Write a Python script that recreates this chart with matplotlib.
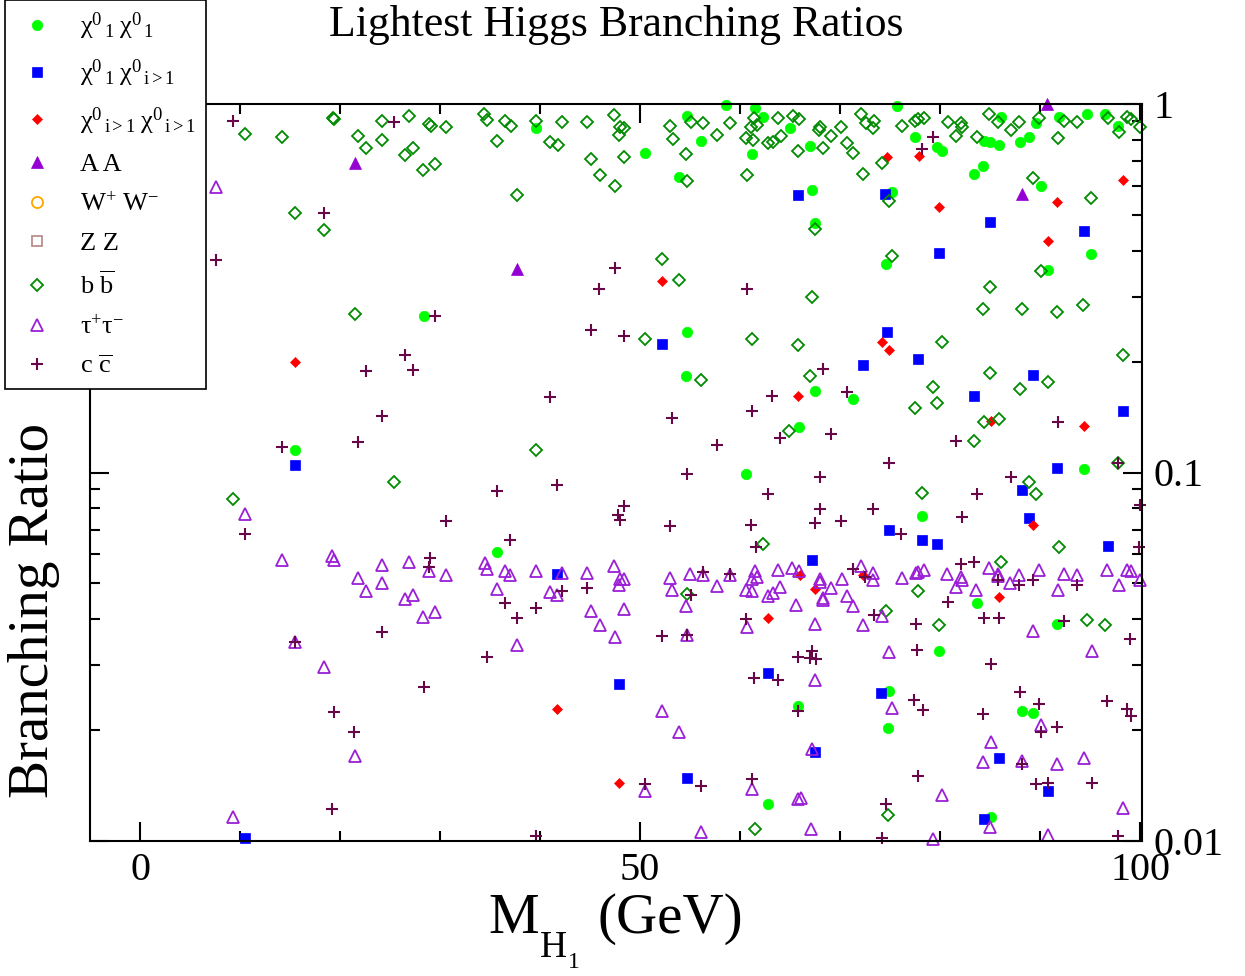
import matplotlib
matplotlib.use('Agg')
import matplotlib.pyplot as plt
from matplotlib.ticker import FixedLocator, FixedFormatter, LogLocator, MultipleLocator, NullFormatter

plt.rcParams['font.family'] = ['Liberation Serif', 'DejaVu Serif']
plt.rcParams['mathtext.fontset'] = 'custom'
plt.rcParams['mathtext.rm'] = 'Liberation Serif'
plt.rcParams['mathtext.it'] = 'Liberation Serif:italic'
plt.rcParams['mathtext.bf'] = 'Liberation Serif:bold'
plt.rcParams['mathtext.default'] = 'regular'

# ---------------- data (M_H1 in GeV, branching ratio) ----------------
chi11_x = [28.4, 39.6, 50.5, 54.7, 56.1, 58.6, 53.9, 61.5, 62.3, 61.2, 65.0, 54.7, 67.0, 75.7,
           77.5, 79.7, 80.2, 84.4, 85.0, 85.9, 86.1, 88.0, 88.9, 89.6, 91.9, 94.7, 96.5, 97.8,
           83.4, 84.3, 90.1, 67.2, 75.2, 67.5, 95.1, 74.6, 90.8, 15.5, 54.6, 65.9, 60.6, 35.7,
           65.8, 62.8, 67.5, 71.3, 94.4, 78.2, 83.7, 91.7, 79.9, 74.9, 88.2, 89.3, 74.8, 85.1]
chi11_y = [0.266, 0.861, 0.736, 0.93, 0.792, 0.994, 0.634, 0.973, 0.92, 0.733, 0.859, 0.241, 0.769, 0.99,
           0.812, 0.766, 0.747, 0.795, 0.79, 0.774, 0.924, 0.79, 0.815, 0.886, 0.92, 0.939, 0.939, 0.873,
           0.646, 0.679, 0.60, 0.583, 0.578, 0.476, 0.391, 0.367, 0.355, 0.115, 0.183, 0.133, 0.099, 0.0609,
           0.0232, 0.0126, 0.166, 0.158, 0.102, 0.0763, 0.0443, 0.0388, 0.0327, 0.0256, 0.0225, 0.0222, 0.0202, 0.0116]

chi1j_x = [52.2, 65.8, 74.5, 85.0, 94.4, 79.9, 74.7, 15.5, 72.3, 77.8, 89.3, 83.4, 98.3, 91.7,
           88.2, 88.9, 74.9, 78.2, 79.7, 96.8, 67.2, 41.7, 47.9, 62.8, 54.7, 74.1, 67.5, 85.9,
           90.8, 84.4, 10.5]
chi1j_y = [0.223, 0.566, 0.57, 0.477, 0.452, 0.393, 0.24, 0.105, 0.196, 0.203, 0.184, 0.161, 0.147, 0.103,
           0.0895, 0.0752, 0.0700, 0.0656, 0.064, 0.0632, 0.058, 0.0531, 0.0267, 0.0285, 0.0148, 0.0252, 0.0174, 0.0168,
           0.0137, 0.0115, 0.0102]

chijj_x = [52.2, 74.7, 77.9, 98.3, 91.7, 79.9, 90.8, 74.2, 74.9, 15.5, 65.8, 85.1, 94.4, 89.3,
           66.0, 72.3, 67.5, 85.9, 62.8, 41.7, 47.9]
chijj_y = [0.331, 0.72, 0.724, 0.622, 0.542, 0.525, 0.425, 0.226, 0.215, 0.199, 0.161, 0.138, 0.134, 0.072,
           0.0527, 0.0527, 0.0484, 0.0459, 0.0403, 0.0228, 0.0144]

aa_x = [21.5, 37.7, 90.7, 88.2]
aa_y = [0.693, 0.357, 1.0, 0.571]

ww_x = []
ww_y = []
zz_x = []
zz_y = []

bb_x = [10.5, 14.2, 19.3, 19.4, 21.8, 22.6, 24.2, 24.2, 26.9, 26.5, 27.3, 28.9, 29.1, 30.6,
        28.3, 29.5, 15.5, 18.4, 21.5, 34.4, 34.7, 36.5, 37.1, 39.6, 35.7, 41.0, 41.8, 42.2,
        44.7, 47.4, 48.0, 48.4, 47.9, 45.1, 48.4, 46.0, 47.5, 37.7, 53.0, 55.1, 56.3, 53.3,
        54.6, 57.7, 59.0, 54.7, 61.4, 61.1, 61.7, 60.6, 61.3, 63.8, 65.3, 64.1, 62.8, 63.3,
        65.8, 60.7, 52.2, 53.9, 50.5, 61.2, 65.8, 65.9, 68.0, 67.9, 68.3, 69.1, 70.1, 70.7,
        71.3, 72.1, 72.6, 73.4, 73.3, 72.3, 74.2, 76.2, 77.5, 77.8, 78.4, 80.8, 82.1, 82.2,
        81.6, 83.7, 84.9, 85.8, 87.1, 87.9, 89.9, 92.4, 93.7, 91.8, 96.8, 97.9, 98.7, 99.1,
        100.0, 89.3, 95.1, 74.9, 67.5, 75.2, 90.1, 85.0, 67.2, 84.3, 88.2, 91.7, 94.3, 80.2,
        25.4, 9.3, 56.1, 64.9, 39.6, 62.3, 67.0, 85.0, 79.3, 90.8, 88.0, 98.3, 77.5, 79.7,
        84.4, 85.9, 83.4, 97.8, 78.2, 88.9, 89.6, 91.9, 86.1, 77.8, 54.7, 74.6, 79.9, 94.7,
        96.5, 74.8, 61.5]
bb_y = [0.83, 0.815, 0.918, 0.91, 0.82, 0.758, 0.90, 0.80, 0.93, 0.727, 0.758, 0.88, 0.87, 0.866,
        0.661, 0.686, 0.506, 0.456, 0.269, 0.938, 0.903, 0.90, 0.873, 0.90, 0.795, 0.787, 0.776, 0.892,
        0.892, 0.934, 0.868, 0.859, 0.824, 0.709, 0.717, 0.642, 0.60, 0.565, 0.87, 0.892, 0.886, 0.805,
        0.73, 0.824, 0.888, 0.617, 0.915, 0.868, 0.877, 0.807, 0.798, 0.915, 0.93, 0.819, 0.782, 0.787,
        0.746, 0.642, 0.379, 0.333, 0.23, 0.231, 0.222, 0.909, 0.865, 0.85, 0.758, 0.817, 0.868, 0.782,
        0.736, 0.941, 0.888, 0.901, 0.859, 0.647, 0.69, 0.873, 0.90, 0.909, 0.918, 0.895, 0.886, 0.865,
        0.82, 0.812, 0.938, 0.892, 0.85, 0.892, 0.915, 0.90, 0.892, 0.81, 0.915, 0.838, 0.92, 0.91,
        0.865, 0.628, 0.555, 0.545, 0.458, 0.388, 0.352, 0.318, 0.30, 0.278, 0.278, 0.273, 0.285, 0.226,
        0.094, 0.085, 0.178, 0.13, 0.115, 0.064, 0.183, 0.186, 0.171, 0.176, 0.168, 0.209, 0.15, 0.154,
        0.137, 0.14, 0.122, 0.106, 0.088, 0.094, 0.0875, 0.0626, 0.057, 0.0477, 0.0468, 0.042, 0.0385, 0.0399,
        0.0385, 0.0118, 0.0108]

tau_x = [7.6, 10.5, 14.2, 19.2, 19.4, 24.2, 26.9, 28.9, 30.6, 21.8, 24.2, 22.6, 26.5, 27.3,
         28.3, 29.5, 15.5, 18.4, 21.5, 9.3, 34.5, 34.7, 36.5, 37.0, 39.6, 42.2, 44.7, 47.4,
         48.0, 48.4, 47.9, 35.7, 41.0, 41.7, 53.0, 55.0, 56.3, 59.0, 61.5, 61.2, 61.7, 63.8,
         65.2, 53.2, 57.7, 60.6, 61.2, 62.8, 63.3, 64.0, 45.1, 48.4, 46.0, 47.5, 37.7, 54.6,
         54.7, 60.7, 65.6, 52.2, 53.9, 50.5, 61.2, 65.8, 56.1, 65.9, 68.0, 68.0, 69.1, 70.2,
         72.1, 73.3, 73.3, 76.2, 77.6, 77.8, 78.4, 80.7, 82.1, 82.2, 81.6, 83.6, 84.9, 85.8,
         85.8, 87.0, 87.9, 89.9, 92.4, 93.7, 91.8, 96.7, 98.7, 99.1, 100.0, 97.9, 68.3, 70.7,
         68.3, 71.3, 74.2, 67.5, 72.3, 89.3, 74.9, 95.2, 67.5, 75.2, 90.1, 85.1, 67.2, 84.3,
         88.2, 91.7, 94.4, 66.1, 80.2, 98.3, 67.1, 85.0, 90.8, 79.3]
tau_y = [0.594, 0.0773, 0.058, 0.0592, 0.058, 0.0561, 0.0573, 0.054, 0.0527, 0.0518, 0.050, 0.0477, 0.0455, 0.0466,
         0.0405, 0.0418, 0.0346, 0.0297, 0.017, 0.0116, 0.0569, 0.0546, 0.054, 0.0527, 0.054, 0.0534, 0.0534, 0.0558,
         0.0515, 0.0515, 0.0494, 0.0484, 0.0473, 0.0465, 0.0518, 0.0531, 0.0526, 0.0527, 0.0542, 0.0515, 0.052, 0.0543,
         0.0549, 0.0481, 0.0492, 0.0481, 0.0477, 0.0463, 0.047, 0.049, 0.042, 0.0425, 0.0385, 0.0357, 0.0341, 0.0434,
         0.0363, 0.0382, 0.0437, 0.0226, 0.0197, 0.0137, 0.0138, 0.013, 0.0106, 0.054, 0.0513, 0.0505, 0.0487, 0.0513,
         0.0556, 0.0534, 0.051, 0.0516, 0.0534, 0.0538, 0.0544, 0.053, 0.052, 0.051, 0.049, 0.0481, 0.0552, 0.0531,
         0.0525, 0.050, 0.0527, 0.0543, 0.0531, 0.0527, 0.0481, 0.0543, 0.0543, 0.054, 0.0512, 0.0496, 0.0457, 0.0463,
         0.045, 0.0434, 0.0409, 0.0387, 0.0385, 0.0371, 0.0325, 0.0328, 0.0273, 0.0229, 0.0206, 0.0186, 0.0178, 0.0164,
         0.0165, 0.0162, 0.0168, 0.0131, 0.0133, 0.0123, 0.0108, 0.0109, 0.0104, 0.0101]

cc_x = [9.3, 25.4, 18.4, 7.6, 29.5, 47.5, 45.9, 60.7, 45.1, 48.4, 79.3, 78.2, 26.5, 22.6,
        27.3, 24.2, 21.8, 14.2, 10.5, 30.6, 29.0, 28.9, 24.2, 15.5, 28.4, 19.4, 21.4, 19.2,
        41.0, 63.2, 61.2, 53.2, 64.0, 57.7, 54.7, 62.8, 35.7, 41.7, 48.4, 47.8, 48.0, 53.0,
        61.1, 61.6, 37.0, 42.2, 44.7, 56.3, 59.0, 55.1, 36.5, 39.6, 37.7, 34.7, 52.2, 54.7,
        60.6, 65.8, 61.4, 63.8, 65.8, 50.5, 56.1, 61.2, 39.6, 68.3, 70.7, 69.1, 91.8, 81.6,
        74.9, 97.8, 68.0, 87.1, 83.7, 68.0, 73.3, 67.5, 70.1, 82.2, 76.1, 100.0, 99.9, 82.1,
        83.4, 71.3, 72.5, 85.8, 87.9, 89.3, 93.7, 80.8, 73.4, 77.6, 84.4, 85.9, 92.4, 99.0,
        67.2, 67.6, 67.0, 77.7, 85.1, 77.4, 78.3, 84.3, 88.0, 89.9, 90.1, 91.7, 96.7, 98.7,
        99.1, 88.2, 77.8, 89.6, 90.8, 95.2, 74.6, 74.2, 97.8]
cc_y = [0.90, 0.895, 0.507, 0.377, 0.266, 0.36, 0.315, 0.315, 0.243, 0.235, 0.814, 0.753, 0.209, 0.188,
        0.19, 0.142, 0.121, 0.117, 0.0681, 0.0737, 0.0585, 0.0553, 0.0369, 0.0346, 0.0261, 0.0224, 0.0198, 0.0122,
        0.16, 0.161, 0.147, 0.141, 0.124, 0.119, 0.099, 0.0873, 0.0893, 0.0924, 0.0812, 0.0769, 0.0741, 0.0716,
        0.0719, 0.0626, 0.0655, 0.0476, 0.0487, 0.0538, 0.053, 0.0466, 0.0443, 0.043, 0.0403, 0.0316, 0.036, 0.0363,
        0.0401, 0.0315, 0.0277, 0.0274, 0.0226, 0.0143, 0.0141, 0.0147, 0.0103, 0.191, 0.165, 0.127, 0.137, 0.122,
        0.106, 0.106, 0.0973, 0.0973, 0.0873, 0.0797, 0.0796, 0.0729, 0.0737, 0.0756, 0.0683, 0.0816, 0.0626, 0.0566,
        0.0573, 0.0548, 0.052, 0.051, 0.0494, 0.0512, 0.0496, 0.0446, 0.041, 0.0387, 0.0404, 0.0402, 0.0396, 0.0354,
        0.0327, 0.0311, 0.0314, 0.0329, 0.0302, 0.0242, 0.0227, 0.0221, 0.0253, 0.0235, 0.0197, 0.0204, 0.024, 0.0228,
        0.0218, 0.0162, 0.015, 0.0143, 0.0144, 0.0144, 0.0126, 0.0102, 0.0103]

labels = [r'$\mathrm{\chi}^{0}{}_{\,1}\;\mathrm{\chi}^{0}{}_{\,1}$',
          r'$\mathrm{\chi}^{0}{}_{\,1}\;\mathrm{\chi}^{0}{}_{\,i>1}$',
          r'$\mathrm{\chi}^{0}{}_{\,i>1}\;\mathrm{\chi}^{0}{}_{\,i>1}$',
          'A A',
          r'W$^{+}$ W$^{-}$',
          'Z Z',
          r'b $\overline{\mathrm{b}}$',
          r'$\mathrm{\tau}^{+}\mathrm{\tau}^{-}$',
          r'c $\overline{\mathrm{c}}$']

x_ticks = [0, 50, 100]
x_ticklabels = ['0', '50', '100']
y_ticks = [0.01, 0.1, 1]
y_ticklabels = ['0.01', '0.1', '1']

# ---------------- figure ----------------
W, H = 1245, 976
fig = plt.figure(figsize=(W / 100, H / 100), dpi=100)
ax = fig.add_axes([90 / W, 1 - 841 / H, 1052 / W, 737 / H])
ax.set_yscale('log')
ax.set_xlim(-5, 100.2)
ax.set_ylim(0.01, 1)

series = [
    (chi11_x, chi11_y, dict(marker='o', ms=7.5, mfc='#00ff00', mec='#00ff00', mew=0.5)),
    (chi1j_x, chi1j_y, dict(marker='s', ms=6.5, mfc='#0000ff', mec='#0000ff', mew=0.5)),
    (chijj_x, chijj_y, dict(marker='D', ms=5.3, mfc='#ff0000', mec='#ff0000', mew=0.5)),
    (aa_x, aa_y, dict(marker='^', ms=8.0, mfc='#9400d3', mec='#9400d3', mew=0.5)),
    (ww_x, ww_y, dict(marker='o', ms=8.0, mfc='none', mec='#ffa500', mew=1.3)),
    (zz_x, zz_y, dict(marker='s', ms=7.0, mfc='none', mec='#bc8f8f', mew=1.3)),
    (bb_x, bb_y, dict(marker='D', ms=6.5, mfc='none', mec='#008b00', mew=1.3)),
    (tau_x, tau_y, dict(marker='^', ms=8.5, mfc='none', mec='#9a1fd6', mew=1.3)),
    (cc_x, cc_y, dict(marker='+', ms=8.5, mfc='#670748', mec='#670748', mew=1.5)),
]

handles = []
for (xs, ys, st), lab in zip(series, labels):
    ln, = ax.plot(xs, ys, linestyle='none', clip_on=False, label=lab, **st)
    handles.append(ln)

# axes styling
for sp in ax.spines.values():
    sp.set_linewidth(1.5)
ax.xaxis.set_major_locator(FixedLocator(x_ticks))
ax.xaxis.set_major_formatter(FixedFormatter(x_ticklabels))
ax.xaxis.set_minor_locator(MultipleLocator(10))
ax.yaxis.set_major_locator(FixedLocator(y_ticks))
ax.yaxis.set_major_formatter(FixedFormatter(y_ticklabels))
ax.yaxis.set_minor_locator(LogLocator(base=10, subs=[2, 3, 4, 5, 6, 7, 8, 9]))
ax.yaxis.set_minor_formatter(NullFormatter())
ax.tick_params(axis='both', which='both', direction='in', width=1.5,
               top=True, bottom=True, left=True, right=True)
ax.tick_params(axis='both', which='major', length=14)
ax.tick_params(axis='both', which='minor', length=7)
ax.tick_params(axis='x', which='major', labelsize=29, pad=8)
ax.tick_params(axis='y', which='major', labelsize=29, pad=8,
               labelleft=False, labelright=True)

# texts
fig.text(616 / W, 1 - 36 / H, 'Lightest Higgs Branching Ratios', fontsize=31.5,
         ha='center', va='baseline')
# x-axis label: M with subscript H and sub-subscript 1 (xmgrace style)
fig.text(488 / W, 1 - 933 / H, 'M', fontsize=41, ha='left', va='baseline')
fig.text(540 / W, 1 - 957 / H, 'H', fontsize=27, ha='left', va='baseline')
fig.text(568 / W, 1 - 968 / H, '1', fontsize=17, ha='left', va='baseline')
fig.text(598 / W, 1 - 933 / H, '(GeV)', fontsize=41, ha='left', va='baseline')
fig.text(34 / W, 1 - 610 / H, 'Branching Ratio', fontsize=41, rotation=90,
         ha='center', va='center')

leg = ax.legend(handles=handles, loc='upper left', bbox_to_anchor=(5 / W, 1.0),
                bbox_transform=fig.transFigure, borderaxespad=0, frameon=True,
                fancybox=False, edgecolor='black', framealpha=1, fontsize=19,
                numpoints=1, handlelength=1.63, handletextpad=0.8, labelspacing=0.6,
                borderpad=0.4)
leg.get_frame().set_linewidth(1.2)

fig.savefig('out.png', dpi=100)
